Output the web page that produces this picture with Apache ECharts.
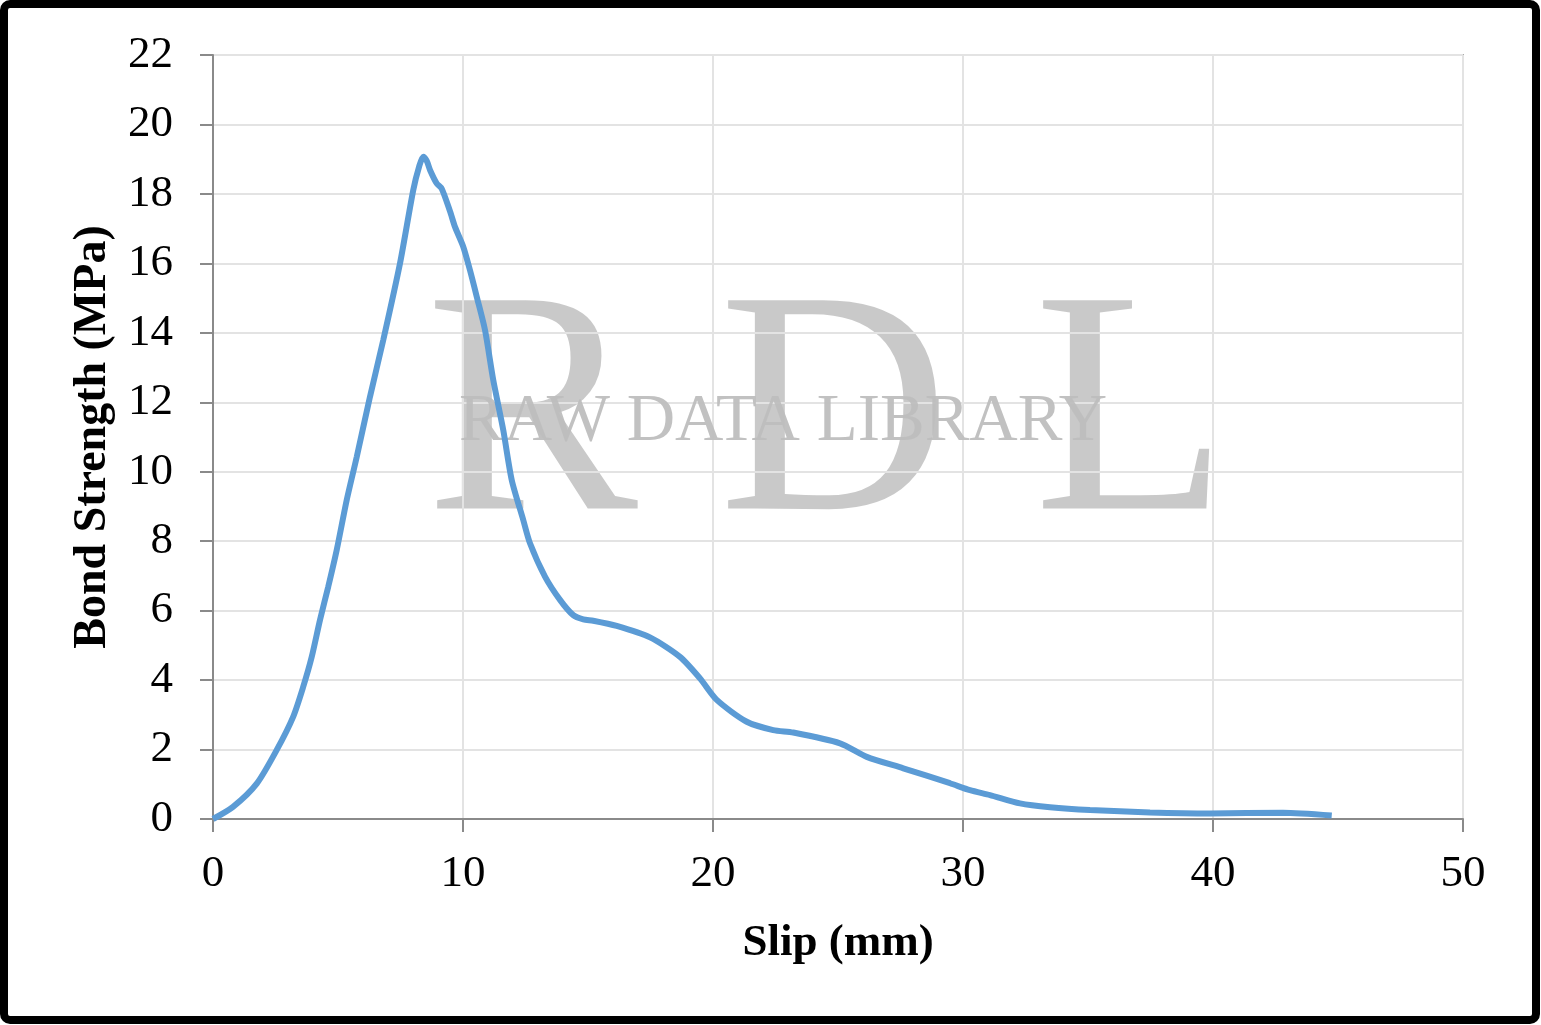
<!DOCTYPE html>
<html>
<head>
<meta charset="utf-8">
<script src="https://cdn.jsdelivr.net/npm/echarts@6/dist/echarts.min.js"></script>
<style>
html,body{margin:0;padding:0;background:#fff;}
#chart{width:1541px;height:1025px;}
</style>
</head>
<body>
<div id="chart"></div>
<script>
// Slip (mm)
const slip = [0, 0.8, 1.75, 2.55, 3.21, 3.61, 3.95, 4.28, 4.61, 4.95, 5.35, 5.75, 6.28, 6.81, 7.48, 8.01, 8.25, 8.41, 8.55, 8.68, 8.95, 9.15, 9.48, 9.68, 10.01, 10.28, 10.55, 10.88, 11.21, 11.61, 11.95, 12.41, 12.68, 13.28, 13.88, 14.41, 14.81, 15.21, 16.15, 17.48, 18.68, 19.48, 20.15, 21.35, 22.41, 23.21, 25.08, 26.15, 27.61, 29.48, 30.28, 31.08, 32.28, 33.48, 35.08, 37.48, 39.88, 42.8, 44.75];
// Bond strength (MPa)
const strength = [0, 0.35, 1.02, 1.99, 2.95, 3.81, 4.67, 5.73, 6.69, 7.75, 9.19, 10.43, 12.16, 13.79, 16.0, 18.11, 18.8, 19.07, 18.95, 18.69, 18.3, 18.15, 17.5, 17.05, 16.48, 15.8, 15.04, 14.08, 12.64, 11.2, 9.76, 8.61, 7.94, 6.98, 6.31, 5.87, 5.75, 5.71, 5.56, 5.23, 4.67, 4.05, 3.43, 2.8, 2.56, 2.49, 2.18, 1.79, 1.46, 1.03, 0.83, 0.69, 0.45, 0.34, 0.26, 0.19, 0.16, 0.18, 0.1];
const xTicks = [0, 10, 20, 30, 40, 50];
const yTicks = [0, 2, 4, 6, 8, 10, 12, 14, 16, 18, 20, 22];
const xTitle = 'Slip (mm)';
const yTitle = 'Bond Strength (MPa)';
const watermarkBig = ['R', 'D', 'L'];
const watermarkSmall = 'RAW DATA LIBRARY';

const points = slip.map((s, i) => [s, strength[i]]);
const serif = "'Liberation Serif', 'Times New Roman', serif";
const chart = echarts.init(document.getElementById('chart'), null, {renderer: 'canvas'});
const wmColor = 'rgba(180,180,180,0.72)';
chart.setOption({
  animation: false,
  backgroundColor: '#fff',
  grid: {left: 213, top: 55, right: 78, bottom: 206, show: true, borderColor: '#ababab', borderWidth: 2},
  xAxis: {
    type: 'value', min: xTicks[0], max: xTicks[xTicks.length - 1], interval: 10,
    name: xTitle, nameLocation: 'middle', nameGap: 102,
    nameTextStyle: {fontFamily: serif, fontWeight: 'bold', fontSize: 45, color: '#000'},
    axisLine: {show: true, lineStyle: {color: '#8a8a8a', width: 2}},
    axisTick: {show: true, inside: false, length: 13, lineStyle: {color: '#8a8a8a', width: 2}},
    axisLabel: {fontFamily: serif, fontSize: 45, color: '#000', margin: 33},
    splitLine: {show: true, lineStyle: {color: '#e3e3e3', width: 2}}
  },
  yAxis: {
    type: 'value', min: yTicks[0], max: yTicks[yTicks.length - 1], interval: 2,
    name: yTitle, nameLocation: 'middle', nameGap: 97,
    nameTextStyle: {fontFamily: serif, fontWeight: 'bold', fontSize: 46, color: '#000'},
    axisLine: {show: true, lineStyle: {color: '#8a8a8a', width: 2}},
    axisTick: {show: true, inside: false, length: 13, lineStyle: {color: '#8a8a8a', width: 2}},
    axisLabel: {fontFamily: serif, fontSize: 45, color: '#000', margin: 40},
    splitLine: {show: true, lineStyle: {color: '#e3e3e3', width: 2}}
  },
  graphic: [
    {type: 'text', left: 426, top: 266, z: 0, silent: true,
      style: {text: watermarkBig[0], font: "318px 'Liberation Serif'", fill: wmColor, verticalAlign: 'middle'}},
    {type: 'text', left: 719, top: 266, z: 0, silent: true,
      style: {text: watermarkBig[1], font: "318px 'Liberation Serif'", fill: wmColor, verticalAlign: 'middle'}},
    {type: 'text', left: 1034, top: 266, z: 0, silent: true,
      style: {text: watermarkBig[2], font: "318px 'Liberation Serif'", fill: wmColor, verticalAlign: 'middle'}},
    {type: 'text', left: 459, top: 389, z: 1, silent: true,
      style: {text: watermarkSmall, font: "67px 'Liberation Serif'", fill: 'rgba(190,190,190,0.95)'}},
    {type: 'rect', z: 100, silent: true, shape: {x: 4, y: 4, width: 1532, height: 1016, r: 6},
      style: {fill: 'none', stroke: '#000', lineWidth: 8}}
  ],
  series: [{
    type: 'line', data: points, showSymbol: false, smooth: 0.25,
    lineStyle: {color: '#5b9bd5', width: 6}, z: 5
  }]
});
</script>
</body>
</html>
